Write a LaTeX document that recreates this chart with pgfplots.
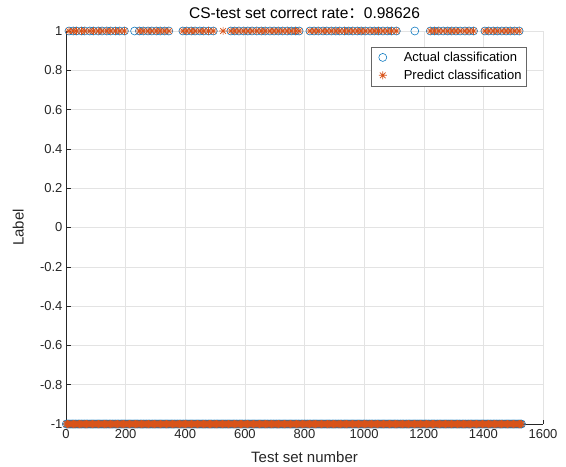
\documentclass[border=0pt]{standalone}
\usepackage{fontspec}
\setmainfont{Liberation Sans}
\newfontfamily\cjk{Noto Sans CJK SC}
\usepackage{pgfplots}
\usepackage{pgfplotstable}
\pgfplotsset{compat=1.18}
\definecolor{mblue}{RGB}{0,114,189}
\definecolor{morange}{RGB}{217,83,25}
\definecolor{axgray}{RGB}{38,38,38}

% MATLAB-like '*' marker (8 arms)
\pgfdeclareplotmark{mstar}{%
  \pgfpathmoveto{\pgfqpoint{-\pgfplotmarksize}{0pt}}\pgfpathlineto{\pgfqpoint{\pgfplotmarksize}{0pt}}%
  \pgfpathmoveto{\pgfqpoint{0pt}{-\pgfplotmarksize}}\pgfpathlineto{\pgfqpoint{0pt}{\pgfplotmarksize}}%
  \pgfpathmoveto{\pgfqpoint{-0.707\pgfplotmarksize}{-0.707\pgfplotmarksize}}\pgfpathlineto{\pgfqpoint{0.707\pgfplotmarksize}{0.707\pgfplotmarksize}}%
  \pgfpathmoveto{\pgfqpoint{-0.707\pgfplotmarksize}{0.707\pgfplotmarksize}}\pgfpathlineto{\pgfqpoint{0.707\pgfplotmarksize}{-0.707\pgfplotmarksize}}%
  \pgfusepathqstroke}

% label -1 samples (shared by actual and predicted)
\pgfplotstableread[row sep=\\]{
x y\\
1 -1\\ 9 -1\\ 17 -1\\ 25 -1\\ 33 -1\\ 41 -1\\ 49 -1\\ 57 -1\\ 65 -1\\ 73 -1\\
81 -1\\ 89 -1\\ 97 -1\\ 105 -1\\ 113 -1\\ 121 -1\\ 129 -1\\ 137 -1\\ 145 -1\\ 153 -1\\
161 -1\\ 169 -1\\ 177 -1\\ 185 -1\\ 193 -1\\ 201 -1\\ 209 -1\\ 217 -1\\ 225 -1\\ 233 -1\\
241 -1\\ 249 -1\\ 257 -1\\ 265 -1\\ 273 -1\\ 281 -1\\ 289 -1\\ 297 -1\\ 305 -1\\ 313 -1\\
321 -1\\ 329 -1\\ 337 -1\\ 345 -1\\ 353 -1\\ 361 -1\\ 369 -1\\ 377 -1\\ 385 -1\\ 393 -1\\
401 -1\\ 409 -1\\ 417 -1\\ 425 -1\\ 433 -1\\ 441 -1\\ 449 -1\\ 457 -1\\ 465 -1\\ 473 -1\\
481 -1\\ 489 -1\\ 497 -1\\ 505 -1\\ 513 -1\\ 521 -1\\ 529 -1\\ 537 -1\\ 545 -1\\ 553 -1\\
561 -1\\ 569 -1\\ 577 -1\\ 585 -1\\ 593 -1\\ 601 -1\\ 609 -1\\ 617 -1\\ 625 -1\\ 633 -1\\
641 -1\\ 649 -1\\ 657 -1\\ 665 -1\\ 673 -1\\ 681 -1\\ 689 -1\\ 697 -1\\ 705 -1\\ 713 -1\\
721 -1\\ 729 -1\\ 737 -1\\ 745 -1\\ 753 -1\\ 761 -1\\ 769 -1\\ 777 -1\\ 785 -1\\ 793 -1\\
801 -1\\ 809 -1\\ 817 -1\\ 825 -1\\ 833 -1\\ 841 -1\\ 849 -1\\ 857 -1\\ 865 -1\\ 873 -1\\
881 -1\\ 889 -1\\ 897 -1\\ 905 -1\\ 913 -1\\ 921 -1\\ 929 -1\\ 937 -1\\ 945 -1\\ 953 -1\\
961 -1\\ 969 -1\\ 977 -1\\ 985 -1\\ 993 -1\\ 1001 -1\\ 1009 -1\\ 1017 -1\\ 1025 -1\\ 1033 -1\\
1041 -1\\ 1049 -1\\ 1057 -1\\ 1065 -1\\ 1073 -1\\ 1081 -1\\ 1089 -1\\ 1097 -1\\ 1105 -1\\ 1113 -1\\
1121 -1\\ 1129 -1\\ 1137 -1\\ 1145 -1\\ 1153 -1\\ 1161 -1\\ 1169 -1\\ 1177 -1\\ 1185 -1\\ 1193 -1\\
1201 -1\\ 1209 -1\\ 1217 -1\\ 1225 -1\\ 1233 -1\\ 1241 -1\\ 1249 -1\\ 1257 -1\\ 1265 -1\\ 1273 -1\\
1281 -1\\ 1289 -1\\ 1297 -1\\ 1305 -1\\ 1313 -1\\ 1321 -1\\ 1329 -1\\ 1337 -1\\ 1345 -1\\ 1353 -1\\
1361 -1\\ 1369 -1\\ 1377 -1\\ 1385 -1\\ 1393 -1\\ 1401 -1\\ 1409 -1\\ 1417 -1\\ 1425 -1\\ 1433 -1\\
1441 -1\\ 1449 -1\\ 1457 -1\\ 1465 -1\\ 1473 -1\\ 1481 -1\\ 1489 -1\\ 1497 -1\\ 1505 -1\\ 1513 -1\\
1521 -1\\ 1528 -1\\
}\negs

\pgfplotstableread[row sep=\\]{
x y\\
5 -1\\ 13 -1\\ 21 -1\\ 29 -1\\ 37 -1\\ 45 -1\\ 53 -1\\ 61 -1\\ 69 -1\\ 77 -1\\
85 -1\\ 93 -1\\ 101 -1\\ 109 -1\\ 117 -1\\ 125 -1\\ 133 -1\\ 141 -1\\ 149 -1\\ 157 -1\\
165 -1\\ 173 -1\\ 181 -1\\ 189 -1\\ 197 -1\\ 205 -1\\ 213 -1\\ 221 -1\\ 229 -1\\ 237 -1\\
245 -1\\ 253 -1\\ 261 -1\\ 269 -1\\ 277 -1\\ 285 -1\\ 293 -1\\ 301 -1\\ 309 -1\\ 317 -1\\
325 -1\\ 333 -1\\ 341 -1\\ 349 -1\\ 357 -1\\ 365 -1\\ 373 -1\\ 381 -1\\ 389 -1\\ 397 -1\\
405 -1\\ 413 -1\\ 421 -1\\ 429 -1\\ 437 -1\\ 445 -1\\ 453 -1\\ 461 -1\\ 469 -1\\ 477 -1\\
485 -1\\ 493 -1\\ 501 -1\\ 509 -1\\ 517 -1\\ 525 -1\\ 533 -1\\ 541 -1\\ 549 -1\\ 557 -1\\
565 -1\\ 573 -1\\ 581 -1\\ 589 -1\\ 597 -1\\ 605 -1\\ 613 -1\\ 621 -1\\ 629 -1\\ 637 -1\\
645 -1\\ 653 -1\\ 661 -1\\ 669 -1\\ 677 -1\\ 685 -1\\ 693 -1\\ 701 -1\\ 709 -1\\ 717 -1\\
725 -1\\ 733 -1\\ 741 -1\\ 749 -1\\ 757 -1\\ 765 -1\\ 773 -1\\ 781 -1\\ 789 -1\\ 797 -1\\
805 -1\\ 813 -1\\ 821 -1\\ 829 -1\\ 837 -1\\ 845 -1\\ 853 -1\\ 861 -1\\ 869 -1\\ 877 -1\\
885 -1\\ 893 -1\\ 901 -1\\ 909 -1\\ 917 -1\\ 925 -1\\ 933 -1\\ 941 -1\\ 949 -1\\ 957 -1\\
965 -1\\ 973 -1\\ 981 -1\\ 989 -1\\ 997 -1\\ 1005 -1\\ 1013 -1\\ 1021 -1\\ 1029 -1\\ 1037 -1\\
1045 -1\\ 1053 -1\\ 1061 -1\\ 1069 -1\\ 1077 -1\\ 1085 -1\\ 1093 -1\\ 1101 -1\\ 1109 -1\\ 1117 -1\\
1125 -1\\ 1133 -1\\ 1141 -1\\ 1149 -1\\ 1157 -1\\ 1165 -1\\ 1173 -1\\ 1181 -1\\ 1189 -1\\ 1197 -1\\
1205 -1\\ 1213 -1\\ 1221 -1\\ 1229 -1\\ 1237 -1\\ 1245 -1\\ 1253 -1\\ 1261 -1\\ 1269 -1\\ 1277 -1\\
1285 -1\\ 1293 -1\\ 1301 -1\\ 1309 -1\\ 1317 -1\\ 1325 -1\\ 1333 -1\\ 1341 -1\\ 1349 -1\\ 1357 -1\\
1365 -1\\ 1373 -1\\ 1381 -1\\ 1389 -1\\ 1397 -1\\ 1405 -1\\ 1413 -1\\ 1421 -1\\ 1429 -1\\ 1437 -1\\
1445 -1\\ 1453 -1\\ 1461 -1\\ 1469 -1\\ 1477 -1\\ 1485 -1\\ 1493 -1\\ 1501 -1\\ 1509 -1\\ 1517 -1\\
1525 -1\\
}\negsb

% actual label +1
\pgfplotstableread[row sep=\\]{
x y\\
10 1\\ 24 1\\ 35 1\\ 52 1\\ 63 1\\ 80 1\\ 92 1\\ 108 1\\ 121 1\\ 137 1\\ 150 1\\ 166 1\\ 180 1\\ 196 1\\
230 1\\ 246 1\\ 259 1\\ 275 1\\ 288 1\\ 303 1\\ 316 1\\ 331 1\\ 345 1\\
392 1\\ 405 1\\ 420 1\\ 433 1\\ 449 1\\ 462 1\\ 478 1\\ 494 1\\
553 1\\ 566 1\\ 580 1\\ 596 1\\ 610 1\\ 624 1\\ 640 1\\ 655 1\\ 668 1\\ 684 1\\ 698 1\\ 712 1\\ 727 1\\ 742 1\\ 756 1\\ 770 1\\ 782 1\\
818 1\\ 832 1\\ 846 1\\ 862 1\\ 875 1\\ 890 1\\ 905 1\\ 918 1\\ 934 1\\ 948 1\\ 962 1\\ 977 1\\ 990 1\\ 1004 1\\ 1020 1\\ 1034 1\\ 1048 1\\ 1063 1\\ 1078 1\\ 1092 1\\ 1108 1\\
1170 1\\ 1222 1\\ 1236 1\\ 1250 1\\ 1265 1\\ 1280 1\\ 1294 1\\ 1308 1\\ 1322 1\\ 1338 1\\ 1352 1\\ 1367 1\\
1405 1\\ 1418 1\\ 1433 1\\ 1447 1\\ 1462 1\\ 1476 1\\ 1490 1\\ 1505 1\\ 1520 1\\
}\actpos

% predicted label +1
\pgfplotstableread[row sep=\\]{
x y\\
10 1\\ 24 1\\ 35 1\\ 52 1\\ 63 1\\ 80 1\\ 92 1\\ 108 1\\ 121 1\\ 137 1\\ 150 1\\ 166 1\\ 180 1\\ 196 1\\
246 1\\ 259 1\\ 275 1\\ 288 1\\ 303 1\\ 316 1\\ 331 1\\ 345 1\\
392 1\\ 405 1\\ 420 1\\ 433 1\\ 449 1\\ 462 1\\ 478 1\\ 494 1\\ 527 1\\
553 1\\ 566 1\\ 580 1\\ 596 1\\ 610 1\\ 624 1\\ 640 1\\ 655 1\\ 668 1\\ 684 1\\ 698 1\\ 712 1\\ 727 1\\ 742 1\\ 756 1\\ 770 1\\ 782 1\\
818 1\\ 832 1\\ 846 1\\ 862 1\\ 875 1\\ 890 1\\ 905 1\\ 918 1\\ 934 1\\ 948 1\\ 962 1\\ 977 1\\ 990 1\\ 1004 1\\ 1020 1\\ 1034 1\\ 1048 1\\ 1063 1\\ 1078 1\\ 1092 1\\ 1108 1\\
1222 1\\ 1236 1\\ 1250 1\\ 1265 1\\ 1280 1\\ 1294 1\\ 1308 1\\ 1322 1\\ 1338 1\\ 1352 1\\ 1367 1\\
1405 1\\ 1418 1\\ 1433 1\\ 1447 1\\ 1462 1\\ 1476 1\\ 1490 1\\ 1505 1\\ 1520 1\\
}\predpos

\begin{document}
\begin{tikzpicture}
\begin{axis}[
    name=ax,
    scale only axis,
    width=477pt, height=393pt,
    xmin=0, xmax=1600, ymin=-1, ymax=1,
    xtick={0,200,...,1600},
    ytick={-1,-0.8,...,1},
    yticklabels={-1,-0.8,-0.6,-0.4,-0.2,0,0.2,0.4,0.6,0.8,1},
    /pgf/number format/1000 sep={},
    axis x line*=bottom, axis y line*=left,
    axis line style={axgray, line width=0.5pt, -},
    tick style={axgray, line width=0.5pt},
    major tick length=4.5pt,
    tick align=inside,
    grid=major,
    grid style={gray!22, line width=0.5pt},
    ticklabel style={font=\fontsize{13}{15}\selectfont, text=axgray},
    xticklabel style={yshift=-2pt},
    /pgf/number format/assume math mode=true,
    every axis title shift=0pt,
    title={CS-test set correct rate{\cjk ：}0.98626},
    title style={at={(axis description cs:0.5,1.031)}, anchor=base,
        font=\fontsize{15.5}{18}\selectfont, text=black},
    xlabel={Test set number},
    xlabel style={at={(axis description cs:0.5,-0.084)}, anchor=center,
        font=\fontsize{15}{17}\selectfont, text=axgray},
    ylabel={Label},
    ylabel style={at={(axis description cs:-0.1,0.5)}, anchor=center, rotate=0,
        font=\fontsize{15}{17}\selectfont, text=axgray},
    legend style={at={(axis description cs:0.966,0.96)}, anchor=north east,
        draw=black!60, line width=0.5pt, fill=white,
        font=\fontsize{13}{15}\selectfont, text=black,
        inner xsep=3pt, inner ysep=3pt, row sep=3pt},
    legend cell align=left,
    legend image code/.code={\path[draw=none, fill=none] (0pt,-3pt) rectangle (28pt,3pt);
        \draw[mark repeat=2,mark phase=2,#1] plot coordinates {(0pt,0pt) (9pt,0pt) (28pt,0pt)};},
    clip=false,
]
\addplot[only marks, mark=o, mark size=4pt, mblue, mark options={line width=0.55pt}] table[x=x,y=y] {\negs};
\addplot[only marks, mark=o, mark size=4pt, mblue, mark options={line width=0.55pt}, forget plot] table[x=x,y=y] {\negsb};
\addplot[only marks, mark=o, mark size=4pt, mblue, mark options={line width=0.55pt}, forget plot] table[x=x,y=y] {\actpos};
\addplot[only marks, mark=mstar, mark size=4pt, morange, mark options={line width=0.7pt}] table[x=x,y=y] {\negs};
\addplot[only marks, mark=mstar, mark size=4pt, morange, mark options={line width=0.7pt}, forget plot] table[x=x,y=y] {\negsb};
\addplot[only marks, mark=mstar, mark size=4pt, morange, mark options={line width=0.7pt}, forget plot] table[x=x,y=y] {\predpos};
\legend{Actual classification, Predict classification}
\end{axis}
\pgfresetboundingbox
\path ([xshift=-66pt,yshift=-42pt]ax.south west) rectangle ([xshift=23pt,yshift=31pt]ax.north east);
\end{tikzpicture}
\end{document}
